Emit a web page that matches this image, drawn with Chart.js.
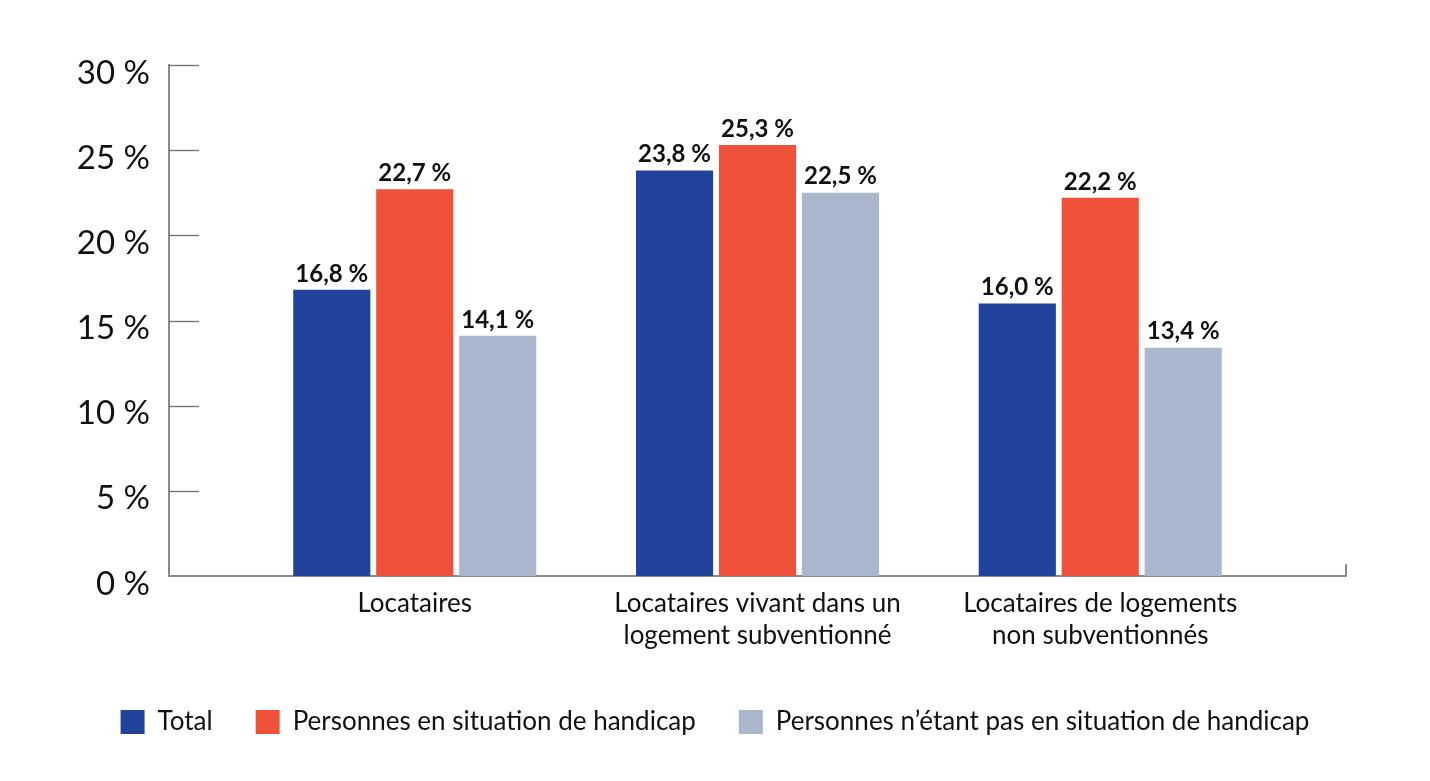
<!DOCTYPE html>
<html>
<head>
<meta charset="utf-8">
<script src="https://cdn.jsdelivr.net/npm/chart.js@4"></script>
<style>
html,body{margin:0;padding:0;background:#fff;}
#wrap{width:1430px;height:781px;position:relative;}
</style>
</head>
<body>
<div id="wrap"><canvas id="c" width="1430" height="781"></canvas></div>
<script>
const categories = [
  ['Locataires'],
  ['Locataires vivant dans un', 'logement subventionné'],
  ['Locataires de logements', 'non subventionnés']
];
const seriesNames = ['Total', 'Personnes en situation de handicap', 'Personnes n\u2019étant pas en situation de handicap'];
const totalValues = [16.8, 23.8, 16.0];
const handicapValues = [22.7, 25.3, 22.2];
const nonHandicapValues = [14.1, 22.5, 13.4];
const yTicks = [0, 5, 10, 15, 20, 25, 30];
const colors = ['#21439b', '#ef513b', '#a9b6cc'];

const FONT = 'Lato, "Open Sans", sans-serif';
const positions = categories.map((c, i) => i + 1);
function pts(vals){ return vals.map((v, i) => ({x: positions[i], y: v})); }

const fmt = v => v.toFixed(1).replace('.', ',') + ' %';

const axisPlugin = {
  id: 'axisDecor',
  afterDraw(chart) {
    const ctx = chart.ctx;
    const y = chart.scales.y;
    const left = chart.chartArea.left, right = chart.chartArea.right, bottom = chart.chartArea.bottom;
    ctx.save();
    ctx.strokeStyle = '#6e6e6e';
    ctx.lineWidth = 1.3;
    yTicks.forEach(t => {
      if (t === 0) return;
      const py = Math.round(y.getPixelForValue(t)) + 0.5;
      ctx.beginPath();
      ctx.moveTo(left, py);
      ctx.lineTo(left + 30, py);
      ctx.stroke();
    });
    ctx.strokeStyle = '#8a8a8a';
    ctx.lineWidth = 2;
    ctx.beginPath();
    ctx.moveTo(right, bottom);
    ctx.lineTo(right, bottom - 12);
    ctx.stroke();
    ctx.restore();
  }
};

const labelPlugin = {
  id: 'valueLabels',
  afterDatasetsDraw(chart) {
    const ctx = chart.ctx;
    ctx.save();
    ctx.font = 'bold 24px ' + FONT;
    ctx.fillStyle = '#111';
    ctx.textAlign = 'center';
    ctx.textBaseline = 'bottom';
    chart.data.datasets.forEach((ds, di) => {
      const meta = chart.getDatasetMeta(di);
      meta.data.forEach((bar, i) => {
        ctx.fillText(fmt(ds.data[i].y), bar.x, bar.y - 4);
      });
    });
    ctx.restore();
  }
};

new Chart(document.getElementById('c'), {
  type: 'bar',
  data: {
    datasets: [
      {label: seriesNames[0], data: pts(totalValues), backgroundColor: colors[0]},
      {label: seriesNames[1], data: pts(handicapValues), backgroundColor: colors[1]},
      {label: seriesNames[2], data: pts(nonHandicapValues), backgroundColor: colors[2]}
    ]
  },
  options: {
    responsive: false,
    animation: false,
    devicePixelRatio: 1,
    layout: {padding: {top: 65, right: 0, left: 0, bottom: 36}},
    datasets: {bar: {barPercentage: 0.93, categoryPercentage: 0.726}},
    plugins: {
      legend: {
        position: 'bottom',
        labels: {
          boxWidth: 24, boxHeight: 24, padding: 43,
          color: '#111',
          font: {family: FONT, size: 26}
        }
      },
      tooltip: {enabled: false}
    },
    scales: {
      x: {
        type: 'linear',
        min: 0.283, max: 3.717,
        offset: false,
        afterBuildTicks(s) { s.ticks = positions.map(v => ({value: v})); },
        afterFit(s) { s.height = 90; },
        grid: {display: false, drawTicks: false},
        border: {display: true, color: '#8a8a8a', width: 2},
        ticks: {
          padding: 12,
          autoSkip: false,
          maxRotation: 0,
          color: '#111',
          font: {family: FONT, size: 26, lineHeight: 1.23},
          callback: (v) => categories[v - 1] || ''
        }
      },
      y: {
        min: 0, max: 30,
        afterBuildTicks(s) { s.ticks = yTicks.map(v => ({value: v})); },
        afterFit(s) { s.width = 169; },
        grid: {display: false, drawTicks: false},
        border: {display: true, color: '#8a8a8a', width: 2},
        ticks: {
          padding: 19,
          labelOffset: 8,
          color: '#111',
          font: {family: FONT, size: 33},
          callback: v => v + ' %'
        }
      },
      yRight: {
        position: 'right',
        min: 0, max: 30,
        afterFit(s) { s.width = 84; },
        grid: {display: false, drawTicks: false},
        border: {display: false},
        ticks: {display: false}
      }
    }
  },
  plugins: [axisPlugin, labelPlugin]
});
</script>
</body>
</html>
